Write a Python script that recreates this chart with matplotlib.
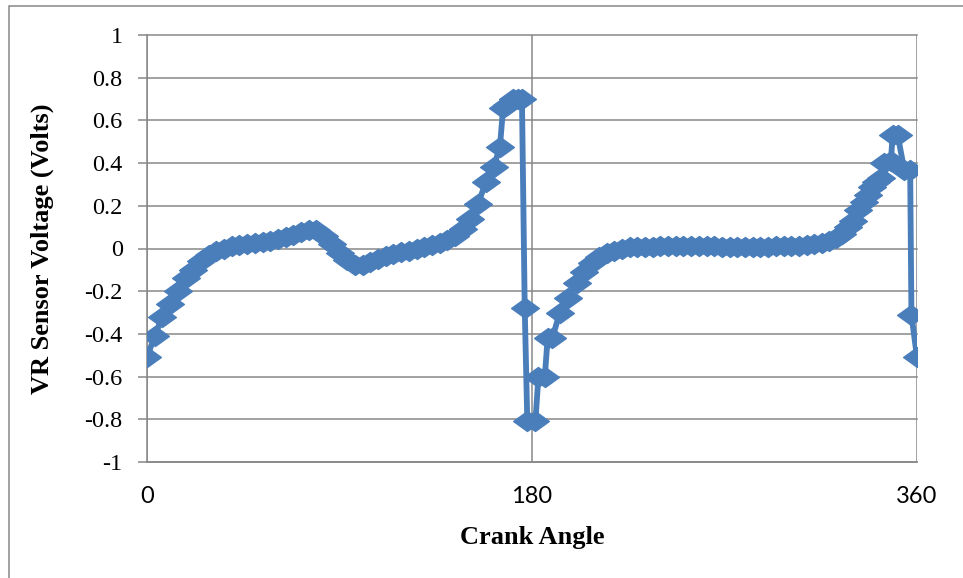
import matplotlib
matplotlib.use("Agg")
import matplotlib.pyplot as plt
from matplotlib.patches import Rectangle
from matplotlib.path import Path

# crank angle (deg) and VR sensor voltage (V)
angle = [0, 3.6, 7.2, 10.8, 14.4, 18.0, 21.6, 25.2, 28.8, 32.4,
         36.0, 39.6, 43.2, 46.8, 50.4, 54.0, 57.6, 61.2, 64.8, 68.4,
         72.0, 75.6, 79.2, 82.8, 86.4, 90.0, 93.6, 97.2, 100.8, 104.4,
         108.0, 111.6, 115.2, 118.8, 122.4, 126.0, 129.6, 133.2, 136.8, 140.4,
         144.0, 147.6, 151.2, 154.8, 158.4, 162.0, 165.0, 166.5, 168.5, 171.0,
         173.5, 175.3, 176.6, 177.8, 181.6, 183.0, 186.0, 187.3, 189.5, 193.0,
         197.0, 201.0, 204.5,
         208.0, 211.5, 215.0, 218.5, 222.0, 225.6, 229.2, 232.8, 236.4, 240.0,
         243.6, 247.2, 250.8, 254.4, 258.0, 261.6, 265.2, 268.8, 272.4, 276.0,
         279.6, 283.2, 286.8, 290.4, 294.0, 297.6, 301.2, 304.8, 308.4, 312.0,
         315.6, 319.0, 322.0, 325.0, 327.7, 330.0, 332.5, 335.0, 337.0, 339.0,
         341.0, 343.0, 344.5, 347.8, 348.6, 351.0, 354.0, 356.8, 357.4, 360.0]
volts = [-0.51, -0.41, -0.32, -0.26, -0.20, -0.14, -0.10, -0.06, -0.03, -0.01,
         0.00, 0.01, 0.015, 0.02, 0.025, 0.03, 0.035, 0.045, 0.055, 0.065,
         0.075, 0.085, 0.085, 0.06, 0.02, -0.02, -0.055, -0.075, -0.075, -0.065,
         -0.05, -0.035, -0.025, -0.015, -0.01, 0.00, 0.005, 0.015, 0.025, 0.04,
         0.06, 0.09, 0.14, 0.21, 0.31, 0.38, 0.475, 0.66, 0.67, 0.70,
         0.70, 0.70, -0.28, -0.81, -0.81, -0.60, -0.60, -0.42, -0.42, -0.30,
         -0.23, -0.16, -0.11,
         -0.07, -0.04, -0.02, -0.01, 0.00, 0.005, 0.005, 0.008, 0.008, 0.01,
         0.01, 0.01, 0.01, 0.01, 0.01, 0.01, 0.01, 0.008, 0.008, 0.005,
         0.005, 0.005, 0.008, 0.008, 0.01, 0.01, 0.01, 0.012, 0.015, 0.02,
         0.025, 0.035, 0.05, 0.07, 0.10, 0.13, 0.18, 0.22, 0.25, 0.29,
         0.31, 0.33, 0.40, 0.41, 0.53, 0.53, 0.37, 0.37, -0.31, -0.51]

x_ticks = [0, 180, 360]
y_ticks = [-1, -0.8, -0.6, -0.4, -0.2, 0, 0.2, 0.4, 0.6, 0.8, 1]
y_labels = ['-1', '-0.8', '-0.6', '-0.4', '-0.2', '0', '0.2', '0.4', '0.6', '0.8', '1']

blue = '#4a7ebb'
grid = '#878787'

# flat diamond like the Excel marker
diamond = Path([(-1, 0), (0, 0.72), (1, 0), (0, -0.72), (-1, 0)],
               [Path.MOVETO, Path.LINETO, Path.LINETO, Path.LINETO, Path.CLOSEPOLY])

fig = plt.figure(figsize=(9.63, 5.78), dpi=100)
fig.patches.append(Rectangle((9 / 963, -0.1), 1.2, 1 - 6 / 578 + 0.1,
                             transform=fig.transFigure, fill=False,
                             edgecolor=grid, linewidth=1.1))
ax = fig.add_axes([147 / 963, 1 - 462 / 578, 770 / 963, 427 / 578])

ax.plot(angle, volts, color=blue, linewidth=4.2, marker=diamond,
        markersize=20, markerfacecolor=blue, markeredgecolor=blue, zorder=3)

ax.set_xlim(0, 360)
ax.set_ylim(-1, 1)
ax.set_xticks(x_ticks)
ax.set_yticks(y_ticks)
ax.set_yticklabels(y_labels, family='Liberation Serif', fontsize=17.5)
ax.set_xticklabels([str(t) for t in x_ticks], family='Lato', fontsize=17)
ax.tick_params(axis='y', length=6.5, width=1.1, color=grid, pad=11)
ax.tick_params(axis='x', length=0, pad=17)

for v in y_ticks:
    ax.axhline(v, color=grid, linewidth=1.1, zorder=1, clip_on=False)
for t in x_ticks:
    ax.axvline(t, color=grid, linewidth=1.1, zorder=1)
for s in ['top', 'right']:
    ax.spines[s].set_visible(False)
for s in ['left', 'bottom']:
    ax.spines[s].set_color(grid)
    ax.spines[s].set_linewidth(1.1)

ax.set_xlabel('Crank Angle', family='Liberation Serif', fontweight='bold',
              fontsize=19, labelpad=14)
ax.set_ylabel('VR Sensor Voltage (Volts)', family='Liberation Serif',
              fontweight='bold', fontsize=19, labelpad=22)

plt.savefig('out.png', dpi=100)
